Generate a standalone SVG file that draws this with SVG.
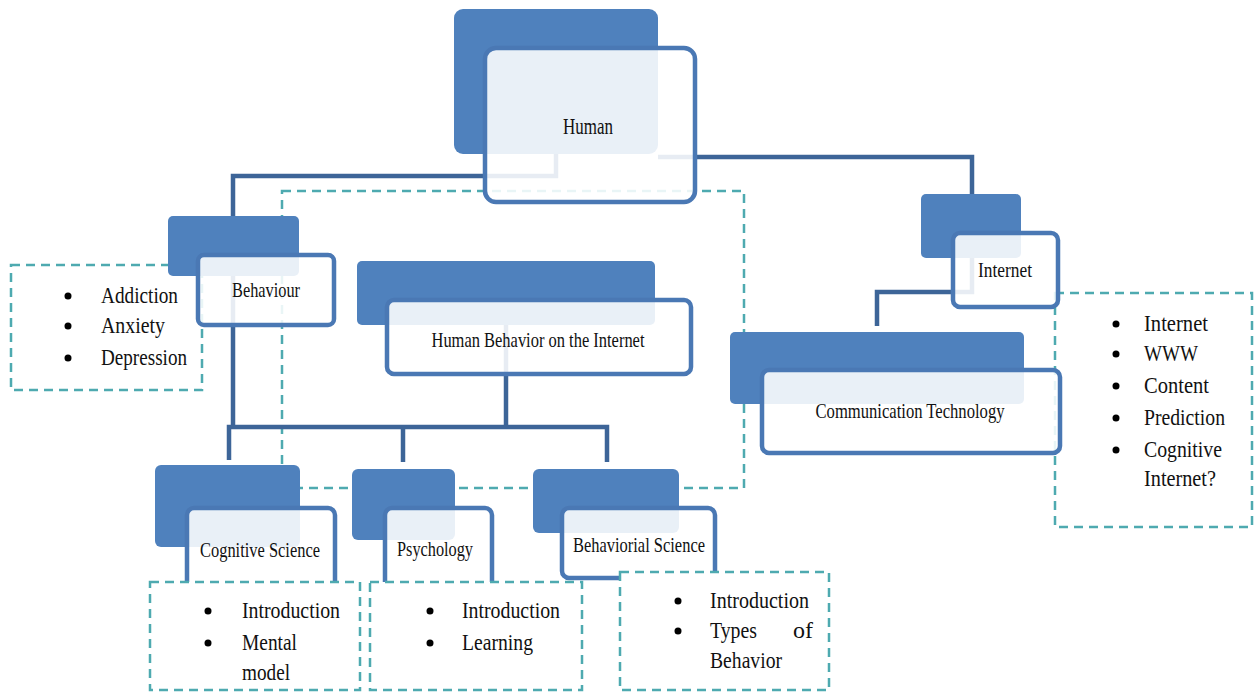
<svg xmlns="http://www.w3.org/2000/svg" width="1260" height="692" viewBox="0 0 1260 692">
  <style>
    .back { fill: #4f81bd; }
    .front { fill: #ffffff; fill-opacity: 0.88; stroke: #4a78b4; stroke-width: 4.5; }
    .conn { fill: none; stroke: #3d6598; stroke-width: 4.5; }
    .dash { fill: none; stroke: #4eaab0; stroke-width: 2.5; stroke-dasharray: 9 6; }
    .dashw { fill: #ffffff; stroke: #4eaab0; stroke-width: 2.5; stroke-dasharray: 9 6; }
    .lbl { font-family: "Liberation Serif", "Times New Roman", serif; font-size: 21px; fill: #111; text-anchor: middle; }
    .item { font-family: "Liberation Serif", "Times New Roman", serif; font-size: 23.5px; fill: #111; }
    .dot { fill: #000; }
  </style>

  <!-- dashed grouping frames behind the tree -->
  <g id="frames">
    <rect class="dash" x="282" y="191" width="462" height="297"/>
    <rect class="dash" x="11" y="265" width="191" height="125"/>
    <rect class="dash" x="1055" y="293" width="197" height="234"/>
  </g>

  <!-- elbow connectors -->
  <g id="connectors">
    <path class="conn" d="M556,154 V176 H233 V216"/>
    <path class="conn" d="M658,157 H972 V194"/>
    <path class="conn" d="M233,276 V427"/>
    <path class="conn" d="M229,460 V427 H607 V462"/>
    <path class="conn" d="M403,427 V462"/>
    <path class="conn" d="M506,325 V427"/>
    <path class="conn" d="M972,258 V292 H877 V326"/>
  </g>

  <g id="node-human">
    <rect class="back" x="454" y="9" width="204" height="145" rx="9"/>
    <rect class="front" x="485" y="48" width="210" height="154" rx="11"/>
    <text class="lbl" x="588" y="134" textLength="50" lengthAdjust="spacingAndGlyphs" style="font-size:23px">Human</text>
  </g>

  <g id="node-behaviour">
    <rect class="back" x="168" y="216" width="131" height="60" rx="5"/>
    <rect class="front" x="198" y="255" width="136" height="70" rx="6"/>
    <text class="lbl" x="266" y="297" textLength="68" lengthAdjust="spacingAndGlyphs">Behaviour</text>
  </g>

  <g id="node-hbi">
    <rect class="back" x="357" y="261" width="298" height="64" rx="5"/>
    <rect class="front" x="387" y="300" width="304" height="74" rx="7"/>
    <text class="lbl" x="538" y="347" textLength="213" lengthAdjust="spacingAndGlyphs">Human Behavior on the Internet</text>
  </g>

  <g id="node-internet">
    <rect class="back" x="921" y="194" width="100" height="64" rx="5"/>
    <rect class="front" x="953" y="233" width="105" height="74" rx="7"/>
    <text class="lbl" x="1005" y="277" textLength="54" lengthAdjust="spacingAndGlyphs">Internet</text>
  </g>

  <g id="node-comm">
    <rect class="back" x="730" y="332" width="294" height="72" rx="5"/>
    <rect class="front" x="762" y="370" width="298" height="83" rx="7"/>
    <text class="lbl" x="910" y="418" textLength="189" lengthAdjust="spacingAndGlyphs">Communication Technology</text>
  </g>

  <g id="node-cogsci">
    <rect class="back" x="155" y="465" width="145" height="82" rx="6"/>
    <rect class="front" x="187" y="508" width="148" height="90" rx="7"/>
    <text class="lbl" x="260" y="557" textLength="120" lengthAdjust="spacingAndGlyphs">Cognitive Science</text>
  </g>

  <g id="node-psych">
    <rect class="back" x="352" y="469" width="103" height="71" rx="6"/>
    <rect class="front" x="385" y="508" width="107" height="90" rx="7"/>
    <text class="lbl" x="435" y="556" textLength="76" lengthAdjust="spacingAndGlyphs">Psychology</text>
  </g>

  <g id="node-behsci">
    <rect class="back" x="533" y="469" width="146" height="64" rx="6"/>
    <rect class="front" x="562" y="508" width="153" height="70" rx="7"/>
    <text class="lbl" x="639" y="552" textLength="132" lengthAdjust="spacingAndGlyphs">Behaviorial Science</text>
  </g>

  <!-- bullet lists -->
  <g id="list-behaviour">
    <circle class="dot" cx="68" cy="296" r="3.5"/>
    <text class="item" x="101" y="303" textLength="77" lengthAdjust="spacingAndGlyphs">Addiction</text>
    <circle class="dot" cx="68" cy="326" r="3.5"/>
    <text class="item" x="101" y="333" textLength="64" lengthAdjust="spacingAndGlyphs">Anxiety</text>
    <circle class="dot" cx="68" cy="358" r="3.5"/>
    <text class="item" x="101" y="365" textLength="86" lengthAdjust="spacingAndGlyphs">Depression</text>
  </g>

  <g id="list-internet">
    <circle class="dot" cx="1116" cy="324" r="3.5"/>
    <text class="item" x="1144" y="331" textLength="64" lengthAdjust="spacingAndGlyphs">Internet</text>
    <circle class="dot" cx="1116" cy="354" r="3.5"/>
    <text class="item" x="1144" y="361" textLength="54" lengthAdjust="spacingAndGlyphs">WWW</text>
    <circle class="dot" cx="1116" cy="386" r="3.5"/>
    <text class="item" x="1144" y="393" textLength="65" lengthAdjust="spacingAndGlyphs">Content</text>
    <circle class="dot" cx="1116" cy="418" r="3.5"/>
    <text class="item" x="1144" y="425" textLength="81" lengthAdjust="spacingAndGlyphs">Prediction</text>
    <circle class="dot" cx="1116" cy="450" r="3.5"/>
    <text class="item" x="1144" y="457" textLength="78" lengthAdjust="spacingAndGlyphs">Cognitive</text>
    <text class="item" x="1144" y="486" textLength="72" lengthAdjust="spacingAndGlyphs">Internet?</text>
  </g>

  <g id="list-cogsci">
    <rect class="dashw" x="150" y="582" width="210" height="108"/>
    <circle class="dot" cx="208" cy="611" r="3.5"/>
    <text class="item" x="242" y="618" textLength="98" lengthAdjust="spacingAndGlyphs">Introduction</text>
    <circle class="dot" cx="208" cy="643" r="3.5"/>
    <text class="item" x="242" y="650" textLength="55" lengthAdjust="spacingAndGlyphs">Mental</text>
    <text class="item" x="242" y="680" textLength="48" lengthAdjust="spacingAndGlyphs">model</text>
  </g>

  <g id="list-psych">
    <rect class="dashw" x="370" y="582" width="212" height="108"/>
    <circle class="dot" cx="430" cy="611" r="3.5"/>
    <text class="item" x="462" y="618" textLength="98" lengthAdjust="spacingAndGlyphs">Introduction</text>
    <circle class="dot" cx="430" cy="643" r="3.5"/>
    <text class="item" x="462" y="650" textLength="71" lengthAdjust="spacingAndGlyphs">Learning</text>
  </g>

  <g id="list-behsci">
    <rect class="dashw" x="620" y="572" width="209" height="118"/>
    <circle class="dot" cx="678" cy="601" r="3.5"/>
    <text class="item" x="710" y="608" textLength="99" lengthAdjust="spacingAndGlyphs">Introduction</text>
    <circle class="dot" cx="678" cy="631" r="3.5"/>
    <text class="item" x="710" y="638" textLength="47" lengthAdjust="spacingAndGlyphs">Types</text>
    <text class="item" x="793" y="638" textLength="20" lengthAdjust="spacingAndGlyphs">of</text>
    <text class="item" x="710" y="668" textLength="72" lengthAdjust="spacingAndGlyphs">Behavior</text>
  </g>
</svg>
